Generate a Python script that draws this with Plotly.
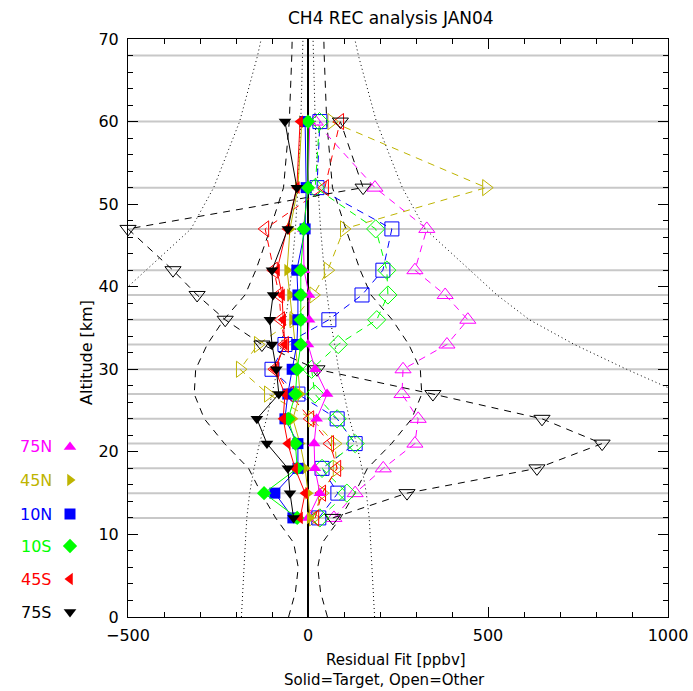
import plotly.graph_objects as go

# ---------------- data ----------------
ALT = [12, 15, 18, 21, 24, 27, 30, 33, 36, 39, 42, 47, 52, 60]

N75_TARGET = [0, 33, 19, 17, 24, 53, 20, 0, 3, 3, -11, -13, 0, 5]
N75_OTHER = [72, 131, 209, 297, 306, 261, 264, 386, 444, 381, 297, 330, 186, 20]
N45_TARGET = [5, 0, -8, -22, -42, -22, -28, -36, -44, -50, -58, -50, -28, -17]
N45_OTHER = [14, 39, 80, 75, 11, -111, -189, -139, -40, 15, 55, 100, 495, 65]
N10_TARGET = [-42, -92, -28, -28, -64, -56, -44, -31, -28, -28, -31, -8, -5, -8]
N10_OTHER = [30, 83, 39, 131, 81, -28, -100, -64, 58, 150, 208, 233, 25, 33]
S10_TARGET = [-30, -122, -30, -35, -55, -35, -30, -20, -20, -20, -20, -12, 0, 0]
S10_OTHER = [33, 108, 39, 131, 81, 19, 10, 84, 191, 222, 219, 188, 20, 32]
S45_TARGET = [-22, -8, -36, -56, -69, -64, -92, -64, -69, -72, -86, -58, -31, -22]
S45_OTHER = [20, 39, 81, 61, 6, -50, -92, -64, -75, -80, -95, -119, 47, 89]
S75_TARGET = [-40, -50, -56, -114, -142, -81, -88, -100, -106, -97, -100, -56, -31, -64]
S75_OTHER = [69, 275, 636, 817, 650, 347, 25, -128, -230, -308, -375, -500, 153, 90]

LAT_LABELS = ["75N", "45N", "10N", "10S", "45S", "75S"]

# envelope curves (half widths, symmetric about zero)
DASH_ALT = [0, 3, 6, 9, 12, 15, 18, 21, 24, 27, 30, 33, 36, 39, 42, 45, 47, 52, 60, 68, 70]
DASH_HALF = [54, 35, 27, 40, 90, 130, 165, 232, 288, 316, 312, 280, 234, 175, 145, 120, 105, 68, 52, 45, 44]
INNER_ALT = [0, 3, 6, 9, 12, 15, 18, 21, 24, 27, 30, 33, 36, 39, 42, 47, 52, 60, 68, 70]
INNER_HALF = [185, 182, 178, 174, 170, 162, 150, 135, 115, 100, 85, 74, 62, 53, 45, 35, 28, 20, 15, 14]
OUTER_ALT = [24, 27, 30, 33, 36, 39, 42, 47, 52, 60, 68, 70]
OUTER_HALF = [1250, 1040, 885, 740, 615, 525, 450, 325, 262, 190, 140, 130]

GRID_ALT = [12, 15, 18, 21, 24, 27, 30, 33, 36, 39, 42, 47, 52, 60, 68]

# ---------------- styling ----------------
W, H = 693, 691
PL, PR, PT, PB = 128, 668, 39, 617
FONT = "DejaVu Sans"

COLORS = ["#FF00FF", "#BEB400", "#0000FF", "#00FF00", "#FF0000", "#000000"]
SYMBOLS = ["triangle-up", "triangle-right", "square", "diamond", "triangle-left", "triangle-down"]
TARGETS = [N75_TARGET, N45_TARGET, N10_TARGET, S10_TARGET, S45_TARGET, S75_TARGET]
OTHERS = [N75_OTHER, N45_OTHER, N10_OTHER, S10_OTHER, S45_OTHER, S75_OTHER]

fig = go.Figure()

# envelopes
for sgn in (-1, 1):
    fig.add_trace(go.Scatter(x=[sgn * v for v in OUTER_HALF], y=OUTER_ALT, mode="lines",
                             line=dict(color="black", width=1, dash="1px,3px"), hoverinfo="skip"))
    fig.add_trace(go.Scatter(x=[sgn * v for v in INNER_HALF], y=INNER_ALT, mode="lines",
                             line=dict(color="black", width=1, dash="1px,3px"), hoverinfo="skip"))
    fig.add_trace(go.Scatter(x=[sgn * v for v in DASH_HALF], y=DASH_ALT, mode="lines",
                             line=dict(color="black", width=1, dash="7px,6px"), hoverinfo="skip"))

# open (other) series
for col, sym, vals, name in zip(COLORS, SYMBOLS, OTHERS, LAT_LABELS):
    fig.add_trace(go.Scatter(x=vals, y=ALT, mode="lines+markers", name=name + " other",
                             line=dict(color=col, width=1, dash="7px,6px"),
                             marker=dict(symbol=sym + "-open", size=14, color=col,
                                         line=dict(width=1, color=col)),
                             cliponaxis=False))

# solid (target) series
for col, sym, vals, name in zip(COLORS, SYMBOLS, TARGETS, LAT_LABELS):
    fig.add_trace(go.Scatter(x=vals, y=ALT, mode="lines+markers", name=name + " target",
                             line=dict(color=col, width=1),
                             marker=dict(symbol=sym, size=11, color=col, line=dict(width=0)),
                             cliponaxis=False))

# legend markers on a pixel overlay axis
LEG_Y = [447, 480, 514, 546, 579, 612]
fig.add_trace(go.Scatter(x=[70] * 6, y=LEG_Y, mode="markers", xaxis="x2", yaxis="y2",
                         marker=dict(symbol=SYMBOLS, color=COLORS, size=11, line=dict(width=0)),
                         hoverinfo="skip"))

# grid lines at retrieval altitudes
shapes = []
for a in GRID_ALT:
    shapes.append(dict(type="line", xref="x", yref="y", x0=-500, x1=1000, y0=a, y1=a,
                       line=dict(color="#C8C8C8", width=2), layer="below"))

ann = []
ann.append(dict(text="CH4 REC analysis JAN04", x=391 / W, y=1 - 18 / H, xref="paper", yref="paper",
                showarrow=False, font=dict(family=FONT, size=17, color="black"),
                xanchor="center", yanchor="middle"))
ann.append(dict(text="Residual Fit [ppbv]", x=396 / W, y=1 - 660 / H, xref="paper", yref="paper",
                showarrow=False, font=dict(family=FONT, size=15, color="black"),
                xanchor="center", yanchor="middle"))
ann.append(dict(text="Solid=Target, Open=Other", x=384 / W, y=1 - 680 / H, xref="paper", yref="paper",
                showarrow=False, font=dict(family=FONT, size=15, color="black"),
                xanchor="center", yanchor="middle"))
ann.append(dict(text="Altitude [km]", x=86 / W, y=1 - 353 / H, xref="paper", yref="paper",
                showarrow=False, textangle=-90, font=dict(family=FONT, size=16, color="black"),
                xanchor="center", yanchor="middle"))
for lab, col, yy in zip(LAT_LABELS, COLORS, LEG_Y):
    ann.append(dict(text=lab, x=54 / W, y=1 - yy / H, xref="paper", yref="paper",
                    showarrow=False, font=dict(family=FONT, size=16, color=col),
                    xanchor="right", yanchor="middle"))

axis_common = dict(showgrid=False, showline=True, linecolor="black", linewidth=1,
                   mirror="ticks", ticks="inside", ticklen=10, tickcolor="black", tickwidth=1,
                   automargin=False,
                   tickfont=dict(family=FONT, size=16, color="black"))

fig.update_layout(
    width=W, height=H, margin=dict(l=0, r=0, t=0, b=0, pad=0, autoexpand=False),
    paper_bgcolor="white", plot_bgcolor="rgba(0,0,0,0)",
    showlegend=False, shapes=shapes, annotations=ann,
    xaxis=dict(domain=[PL / W, PR / W], range=[-500, 1000], dtick=500, tick0=0,
               zeroline=True, zerolinecolor="black", zerolinewidth=1.5,
               ticklabelstandoff=4,
               minor=dict(dtick=100, ticklen=5, ticks="inside", tickcolor="black"),
               **axis_common),
    yaxis=dict(domain=[1 - PB / H, 1 - PT / H], range=[0, 70], dtick=10, tick0=0,
               zeroline=False, ticklabelstandoff=5,
               minor=dict(dtick=2, ticklen=5, ticks="inside", tickcolor="black"),
               **axis_common),
    xaxis2=dict(domain=[0, 1], range=[0, W], anchor="y2", visible=False, fixedrange=True,
                automargin=False),
    yaxis2=dict(domain=[0, 1], range=[H, 0], anchor="x2", visible=False, fixedrange=True,
                automargin=False),
)

fig.write_html("out.html", config={"displayModeBar": False},
               post_script="document.body.style.margin='0';document.body.style.overflow='hidden';")
